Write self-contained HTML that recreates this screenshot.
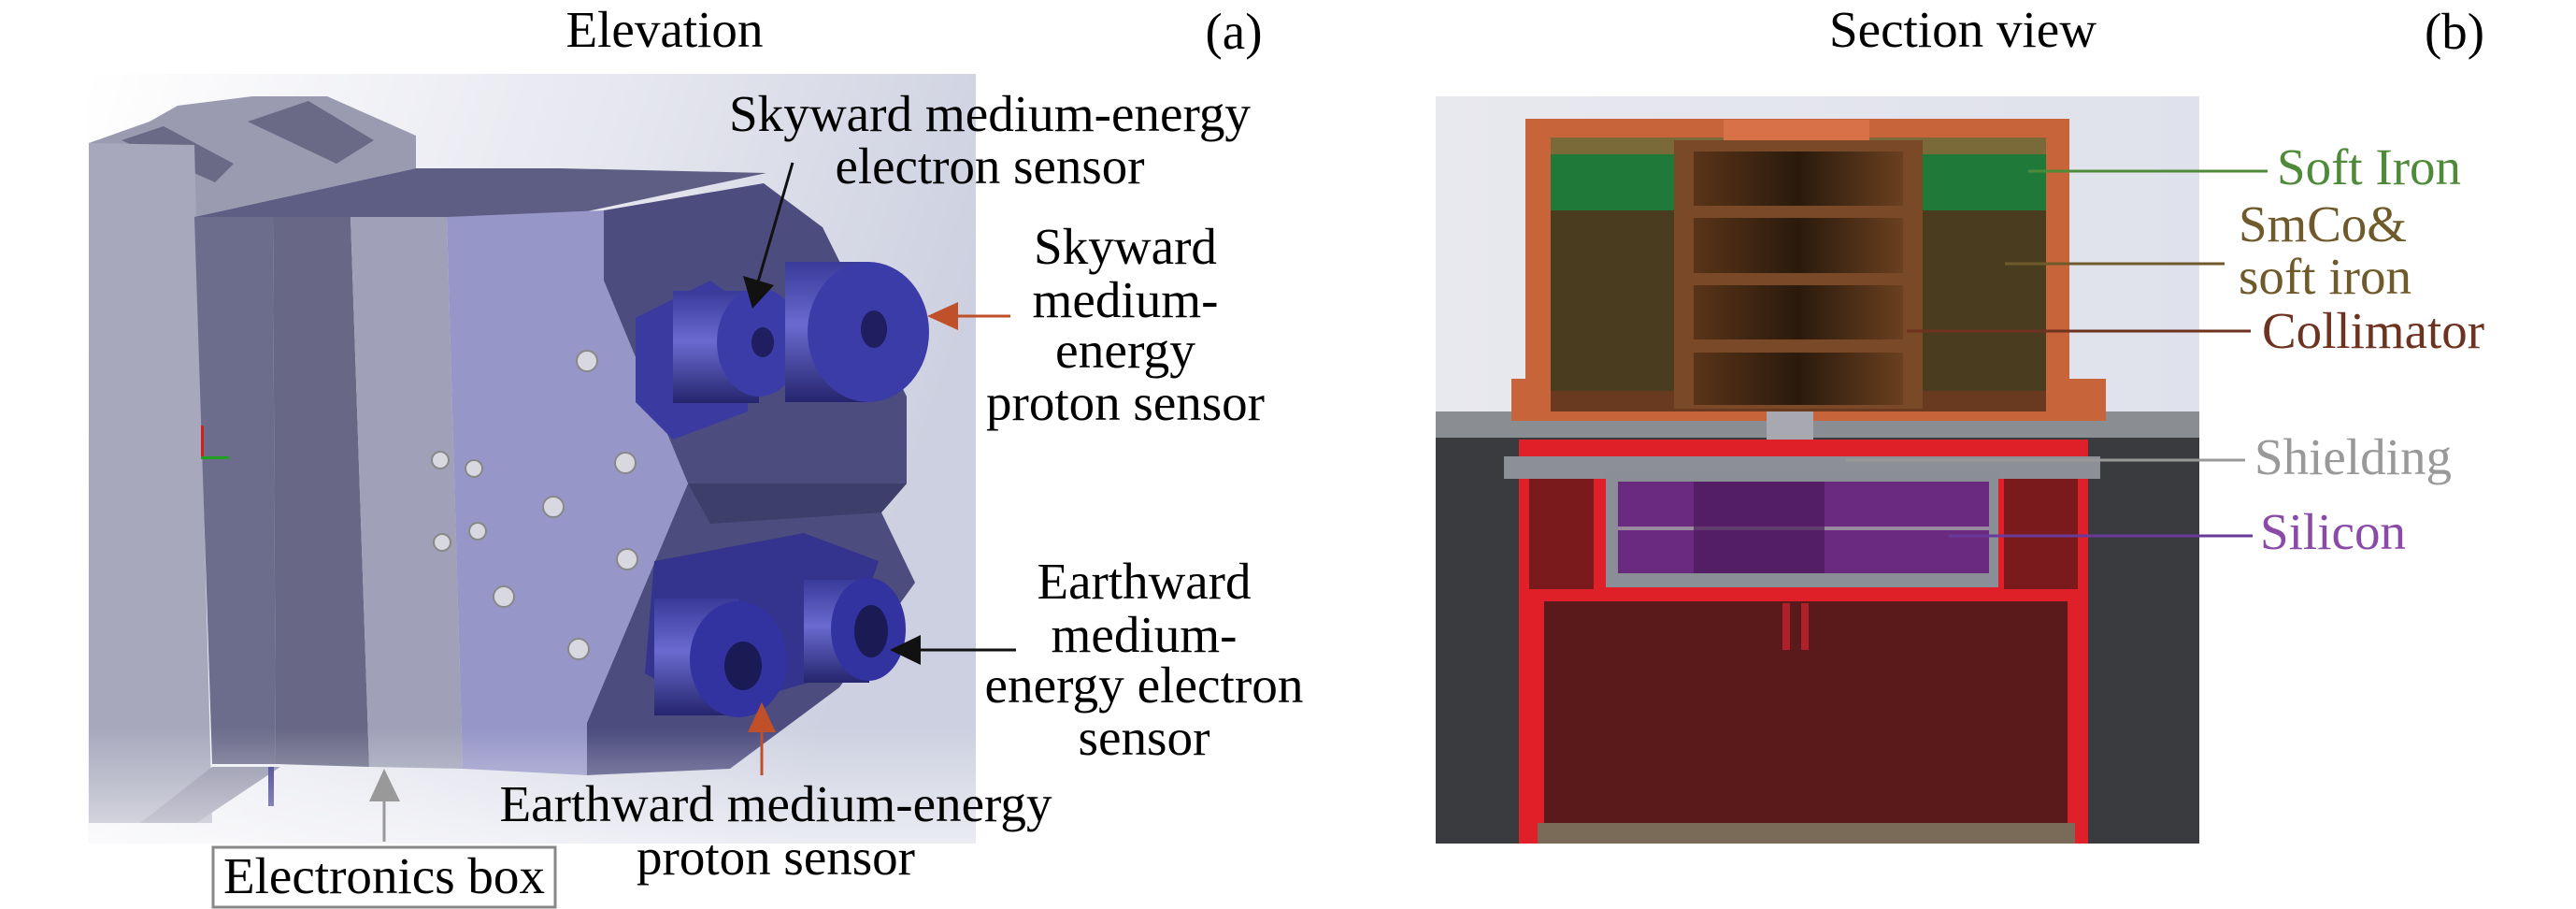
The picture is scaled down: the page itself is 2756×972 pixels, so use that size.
<!DOCTYPE html>
<html><head><meta charset="utf-8"><style>
html,body{margin:0;padding:0;background:#fff;}
svg{display:block;}
svg text{font-family:'Liberation Serif','DejaVu Serif','Noto Serif CJK SC',serif;font-size:55px;}
</style></head><body>
<svg width="2756" height="972" viewBox="0 0 2756 972" xmlns="http://www.w3.org/2000/svg">
<defs>
<linearGradient id="bgL" x1="0" y1="0" x2="1" y2="0.3">
<stop offset="0" stop-color="#ffffff"/><stop offset="0.6" stop-color="#e4e5ee"/><stop offset="1" stop-color="#cdd0e0"/>
</linearGradient>
<linearGradient id="bgL2" x1="0" y1="0" x2="0" y2="1">
<stop offset="0" stop-color="#fff" stop-opacity="0"/><stop offset="0.85" stop-color="#fff" stop-opacity="0"/><stop offset="1" stop-color="#fff" stop-opacity="0.6"/>
</linearGradient>
<linearGradient id="cyl" x1="0" y1="0" x2="0" y2="1">
<stop offset="0" stop-color="#3a3a9a"/><stop offset="0.45" stop-color="#6a6ad0"/><stop offset="1" stop-color="#25256e"/>
</linearGradient>
<linearGradient id="coll" x1="0" y1="0" x2="1" y2="0">
<stop offset="0" stop-color="#5a3418"/><stop offset="0.5" stop-color="#2a1a0c"/><stop offset="1" stop-color="#6a4020"/>
</linearGradient>
<linearGradient id="bgR" x1="0" y1="0" x2="1" y2="0">
<stop offset="0" stop-color="#e8e9ee"/><stop offset="1" stop-color="#dfe1ec"/>
</linearGradient>
</defs>

<rect x="94" y="79" width="950" height="823" fill="url(#bgL)"/>
<polygon points="95,153 160,130 190,113 270,103 350,103 445,145 445,180 208,232 180,200 95,153" fill="#9a9ab0"/>
<polygon points="130,150 175,135 250,175 230,195" fill="#6a6a86"/>
<polygon points="265,130 330,108 400,150 360,175" fill="#6a6a86"/>
<polygon points="95,153 208,155 227,880 95,880" fill="#a7a8bc"/>
<polygon points="208,232 445,180 600,180 820,185 600,232" fill="#5e5e84"/>
<polygon points="208,232 292,232 295,817 227,817" fill="#6c6c8c"/>
<polygon points="292,232 375,232 395,820 295,817" fill="#686886"/>
<polygon points="375,232 478,232 495,822 395,820" fill="#a0a0b8"/>
<polygon points="478,232 646,225 646,300 736,517 628,773 628,829 495,822" fill="#9696c8"/>
<polygon points="646,225 817,196 880,243 970,424 970,517 943,548 979,623 898,735 781,822 628,829 628,773 736,517 646,300" fill="#4c4c7e"/>
<polygon points="736,517 970,517 943,548 760,560" fill="#3e3e6a"/>
<polygon points="227,820 300,820 210,880 150,880" fill="#9090a8"/>
<rect x="287" y="820" width="6" height="42" fill="#30308a"/>
<g fill="#d8d8e0" stroke="#888" stroke-width="2">
<circle cx="628" cy="386" r="11"/><circle cx="471" cy="492" r="9"/><circle cx="507" cy="501" r="9"/>
<circle cx="669" cy="495" r="11"/><circle cx="592" cy="542" r="11"/><circle cx="473" cy="580" r="9"/>
<circle cx="511" cy="568" r="9"/><circle cx="671" cy="598" r="11"/><circle cx="539" cy="638" r="11"/>
<circle cx="619" cy="694" r="11"/>
</g>
<rect x="215" y="455" width="3" height="36" fill="#d02020"/>
<rect x="215" y="488" width="30" height="3" fill="#20a020"/>
<polygon points="680,340 760,300 800,330 800,440 720,470 680,430" fill="#3a3aa0"/>
<rect x="720" y="311" width="92" height="120" fill="url(#cyl)"/>
<ellipse cx="812" cy="366" rx="45" ry="58" fill="#3c3ca8"/>
<ellipse cx="816" cy="366" rx="12" ry="16" fill="#1e1e60"/>
<rect x="840" y="280" width="90" height="150" fill="url(#cyl)"/>
<ellipse cx="929" cy="355" rx="65" ry="75" fill="#3c3ca8"/>
<ellipse cx="935" cy="352" rx="14" ry="20" fill="#1e1e60"/>
<polygon points="700,600 860,570 940,600 900,720 760,760 690,720" fill="#34348e"/>
<rect x="700" y="640" width="90" height="125" fill="url(#cyl)"/>
<ellipse cx="790" cy="705" rx="52" ry="62" fill="#3232a0"/>
<ellipse cx="795" cy="712" rx="20" ry="26" fill="#1a1a55"/>
<rect x="860" y="620" width="70" height="110" fill="url(#cyl)"/>
<ellipse cx="929" cy="673" rx="40" ry="55" fill="#3232a0"/>
<ellipse cx="932" cy="675" rx="18" ry="28" fill="#1a1a55"/>
<rect x="94" y="79" width="950" height="823" fill="url(#bgL2)"/>

<line x1="848" y1="174" x2="810" y2="305" stroke="#111" stroke-width="3"/>
<polygon points="795,295 828,305 805,330" fill="#111"/>
<line x1="1081" y1="338" x2="1020" y2="338" stroke="#c0502a" stroke-width="3"/>
<polygon points="992,338 1025,323 1025,353" fill="#c0502a"/>
<line x1="1087" y1="695" x2="980" y2="695" stroke="#111" stroke-width="3"/>
<polygon points="952,695 985,679 985,711" fill="#111"/>
<line x1="815" y1="829" x2="815" y2="780" stroke="#c0502a" stroke-width="3"/>
<polygon points="815,751 800,783 830,783" fill="#c0502a"/>
<line x1="411" y1="900" x2="411" y2="855" stroke="#999" stroke-width="3"/>
<polygon points="411,822 395,857 428,857" fill="#999"/>

<g lengthAdjust="spacingAndGlyphs">
<text x="711" y="50" text-anchor="middle" textLength="211" lengthAdjust="spacingAndGlyphs">Elevation</text>
<text x="1320" y="52" text-anchor="middle" textLength="61" lengthAdjust="spacingAndGlyphs">(a)</text>
<text x="1059" y="140" text-anchor="middle" textLength="558" lengthAdjust="spacingAndGlyphs">Skyward medium-energy</text>
<text x="1059" y="196" text-anchor="middle" textLength="331" lengthAdjust="spacingAndGlyphs">electron sensor</text>
<text x="1204" y="282" text-anchor="middle" textLength="196" lengthAdjust="spacingAndGlyphs">Skyward</text>
<text x="1204" y="339" text-anchor="middle" textLength="199" lengthAdjust="spacingAndGlyphs">medium-</text>
<text x="1204" y="393" text-anchor="middle" textLength="150" lengthAdjust="spacingAndGlyphs">energy</text>
<text x="1204" y="449" text-anchor="middle" textLength="298" lengthAdjust="spacingAndGlyphs">proton sensor</text>
<text x="1224" y="640" text-anchor="middle" textLength="229" lengthAdjust="spacingAndGlyphs">Earthward</text>
<text x="1224" y="697" text-anchor="middle" textLength="199" lengthAdjust="spacingAndGlyphs">medium-</text>
<text x="1224" y="751" text-anchor="middle" textLength="341" lengthAdjust="spacingAndGlyphs">energy electron</text>
<text x="1224" y="807" text-anchor="middle" textLength="141" lengthAdjust="spacingAndGlyphs">sensor</text>
<text x="830" y="878" text-anchor="middle" textLength="591" lengthAdjust="spacingAndGlyphs">Earthward medium-energy</text>
<text x="830" y="935" text-anchor="middle" textLength="298" lengthAdjust="spacingAndGlyphs">proton sensor</text>
<text x="411" y="955" text-anchor="middle" textLength="344" lengthAdjust="spacingAndGlyphs">Electronics box</text>
</g>
<rect x="228" y="906" width="366" height="64" fill="none" stroke="#888" stroke-width="3"/>

<rect x="1536" y="103" width="817" height="350" fill="url(#bgR)"/>
<rect x="1536" y="450" width="817" height="452" fill="#3a3b3e"/>
<rect x="1536" y="440" width="817" height="28" fill="#8a8d92"/>
<rect x="1632" y="127" width="582" height="323" fill="#c8643a"/>
<rect x="1617" y="405" width="636" height="45" fill="#c8643a"/>
<rect x="1659" y="147" width="530" height="293" fill="#4a3c1e"/>
<rect x="1659" y="147" width="530" height="18" fill="#7a6a3a"/>
<rect x="1659" y="165" width="135" height="60" fill="#1f7a3a"/>
<rect x="2057" y="165" width="132" height="60" fill="#1f7a3a"/>
<rect x="1659" y="418" width="530" height="22" fill="#6a3a20"/>
<rect x="1844" y="128" width="156" height="32" fill="#d87048"/>
<rect x="1791" y="150" width="266" height="287" fill="#7a4a28"/>
<rect x="1812" y="162" width="224" height="58" fill="url(#coll)"/>
<rect x="1812" y="233" width="224" height="59" fill="url(#coll)"/>
<rect x="1812" y="305" width="224" height="58" fill="url(#coll)"/>
<rect x="1812" y="377" width="224" height="56" fill="url(#coll)"/>
<rect x="1890" y="440" width="50" height="30" fill="#a8a8b0"/>
<rect x="1625" y="470" width="609" height="432" fill="#e02028"/>
<rect x="1636" y="497" width="69" height="133" fill="#7a1a1c"/>
<rect x="2144" y="497" width="79" height="133" fill="#7a1a1c"/>
<rect x="1652" y="643" width="560" height="237" fill="#5a1a1c"/>
<rect x="1907" y="645" width="8" height="50" fill="#b02028"/>
<rect x="1927" y="645" width="8" height="50" fill="#b02028"/>
<rect x="1645" y="880" width="575" height="22" fill="#7a6a58"/>
<rect x="1609" y="488" width="638" height="24" fill="#8c9096"/>
<rect x="1718" y="505" width="420" height="123" fill="#8a8e96"/>
<rect x="1731" y="515" width="397" height="98" fill="#6a2a80"/>
<rect x="1731" y="563" width="397" height="4" fill="#9a8aa0"/>
<rect x="1812" y="515" width="140" height="98" fill="#4a1a5a" opacity="0.7"/>
<line x1="2170" y1="183" x2="2426" y2="183" stroke="#4e8a3a" stroke-width="3"/>
<line x1="2145" y1="282" x2="2380" y2="282" stroke="#6e5a2a" stroke-width="3"/>
<line x1="2040" y1="354" x2="2408" y2="354" stroke="#6e3220" stroke-width="3"/>
<line x1="1975" y1="492" x2="2402" y2="492" stroke="#999" stroke-width="3"/>
<line x1="2085" y1="573" x2="2410" y2="573" stroke="#6a3a9a" stroke-width="3"/>
<text x="2100" y="50" text-anchor="middle" textLength="286" lengthAdjust="spacingAndGlyphs">Section view</text>
<text x="2626" y="52" text-anchor="middle" textLength="64" lengthAdjust="spacingAndGlyphs">(b)</text>
<text x="2436" y="197" fill="#4e8a3a" textLength="197" lengthAdjust="spacingAndGlyphs">Soft Iron</text>
<text x="2395" y="258" fill="#6e5a2a" textLength="180" lengthAdjust="spacingAndGlyphs">SmCo&amp;</text>
<text x="2395" y="314" fill="#6e5a2a" textLength="185" lengthAdjust="spacingAndGlyphs">soft iron</text>
<text x="2420" y="372" fill="#6e3220" textLength="238" lengthAdjust="spacingAndGlyphs">Collimator</text>
<text x="2412" y="507" fill="#999" textLength="211" lengthAdjust="spacingAndGlyphs">Shielding</text>
<text x="2418" y="587" fill="#8a4aa8" textLength="156" lengthAdjust="spacingAndGlyphs">Silicon</text>
</svg>
</body></html>
